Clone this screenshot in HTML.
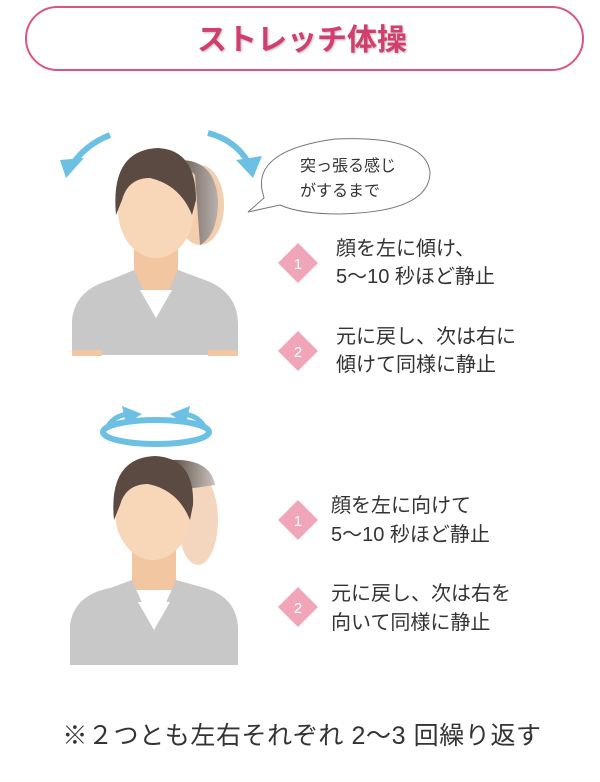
<!DOCTYPE html>
<html><head><meta charset="utf-8"><style>
html,body{margin:0;padding:0;background:#fff;}
svg{display:block;}
text{font-family:"Liberation Sans","Noto Sans CJK JP",sans-serif;}
</style></head><body>
<svg width="600" height="782" viewBox="0 0 600 782" xmlns="http://www.w3.org/2000/svg">
<defs>
<linearGradient id="g1" x1="0" y1="0" x2="1" y2="0"><stop offset="0" stop-color="#6e5f58"/><stop offset="1" stop-color="#b8b0ac"/></linearGradient>
<linearGradient id="g2" x1="0" y1="0" x2="1" y2="0"><stop offset="0" stop-color="#5a4a42"/><stop offset="1" stop-color="#c9c2be"/></linearGradient>
</defs>
<rect x="26" y="7" width="557" height="63" rx="31.5" fill="#fff" stroke="#d9567e" stroke-width="2"/>
<text x="302" y="50" text-anchor="middle" font-size="30" font-weight="bold" fill="#d23e6e" style="text-shadow:1px 1px 2px #bbb">ストレッチ体操</text>

<!-- figure 1 -->
<path d="M110 135 Q85 145 72 165" fill="none" stroke="#6cc0e4" stroke-width="6"/>
<polygon points="60,160 84,158 66,178" fill="#6cc0e4"/>
<path d="M208 133 Q235 140 248 162" fill="none" stroke="#6cc0e4" stroke-width="6"/>
<polygon points="236,160 262,156 253,178" fill="#6cc0e4"/>
<ellipse cx="200" cy="205" rx="24" ry="40" fill="#f3cfb0"/>
<path d="M180 160 Q215 160 218 200 Q218 235 200 245 L195 175 Z" fill="url(#g1)"/>
<rect x="134" y="248" width="44" height="50" fill="#f2c6a0"/>
<path d="M72 355 L72 320 Q75 290 110 280 L134 270 L156 318 L178 270 L205 280 Q238 292 238 325 L238 355 Z" fill="#c8c8c8"/>
<path d="M140 290 L172 290 L156 318 Z" fill="#fff"/>
<rect x="72" y="350" width="30" height="6" fill="#f2c6a0"/><rect x="208" y="350" width="30" height="6" fill="#f2c6a0"/>
<ellipse cx="156" cy="210" rx="38" ry="48" fill="#f8d6b8"/>
<path d="M116 215 Q110 150 158 148 Q196 150 196 200 L192 215 Q180 185 150 178 Q128 178 122 200 Z" fill="#5a4a42"/>

<path d="M262 190 Q255 150 335 139 Q425 135 430 172 Q430 212 340 214 Q300 214 280 205 L248 212 L264 198 Z" fill="#fff" stroke="#777" stroke-width="1"/>
<text x="300" y="171" font-size="16" fill="#333">突っ張る感じ</text>
<text x="300" y="196" font-size="16" fill="#333">がするまで</text>

<g fill="#f0a5b8"><polygon points="298,243 318,263 298,283 278,263"/><polygon points="298,331 318,351 298,371 278,351"/><polygon points="298,500 318,520 298,540 278,520"/><polygon points="298,587 318,607 298,627 278,607"/></g>
<g fill="#fff" font-size="15" text-anchor="middle"><text x="298" y="269">1</text><text x="298" y="357">2</text><text x="298" y="526">1</text><text x="298" y="613">2</text></g>
<g font-size="20" fill="#333">
<text x="336" y="255">顔を左に傾け、</text><text x="336" y="283">5〜10 秒ほど静止</text>
<text x="336" y="343">元に戻し、次は右に</text><text x="336" y="371">傾けて同様に静止</text>
<text x="331" y="512">顔を左に向けて</text><text x="331" y="541">5〜10 秒ほど静止</text>
<text x="331" y="600">元に戻し、次は右を</text><text x="331" y="629">向いて同様に静止</text>
</g>

<!-- figure 2 -->
<ellipse cx="156" cy="432" rx="53" ry="12" fill="none" stroke="#6cc0e4" stroke-width="6"/>
<path d="M108 426 Q114 416 128 414" fill="none" stroke="#6cc0e4" stroke-width="5"/>
<polygon points="122,406 142,414 126,424" fill="#6cc0e4"/>
<path d="M204 426 Q198 416 184 414" fill="none" stroke="#6cc0e4" stroke-width="5"/>
<polygon points="190,406 170,414 186,424" fill="#6cc0e4"/>
<ellipse cx="198" cy="520" rx="20" ry="45" fill="#f3d6bd"/>
<path d="M170 460 Q210 458 215 485 L180 490 Z" fill="url(#g2)"/>
<rect x="132" y="550" width="44" height="40" fill="#f2c6a0"/>
<path d="M70 665 L70 625 Q74 595 110 588 L132 580 L154 630 L176 580 L205 588 Q238 598 238 630 L238 665 Z" fill="#c8c8c8"/>
<path d="M138 602 L170 602 L154 630 Z" fill="#fff"/>
<ellipse cx="153" cy="512" rx="38" ry="48" fill="#f8d6b8"/>
<path d="M114 520 Q108 458 155 456 Q195 458 193 505 L190 520 Q178 490 148 484 Q126 484 120 505 Z" fill="#5a4a42"/>

<text x="302" y="744" text-anchor="middle" font-size="25" letter-spacing="0.6" fill="#333">※２つとも左右それぞれ 2〜3 回繰り返す</text>
</svg>
</body></html>
